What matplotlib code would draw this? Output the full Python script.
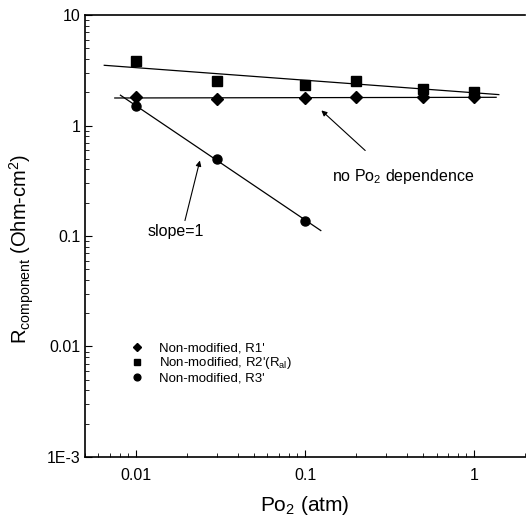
import matplotlib.pyplot as plt
import numpy as np
from matplotlib.ticker import NullFormatter

plt.rcParams['font.family'] = ['Liberation Sans', 'DejaVu Sans']
plt.rcParams['mathtext.default'] = 'regular'

# data
po2 = [0.01, 0.03, 0.1, 0.2, 0.5, 1.0]
r1 = [1.80, 1.75, 1.78, 1.80, 1.80, 1.80]
r2 = [3.80, 2.55, 2.35, 2.55, 2.16, 2.03]
po2_r3 = [0.01, 0.03, 0.1]
r3 = [1.49, 0.50, 0.138]

# extent of each fitted line
fit_r1 = [0.0075, 1.35]
fit_r2 = [0.0065, 1.4]
fit_r3 = [0.0081, 0.124]

fig = plt.figure(figsize=(5.26, 5.18), dpi=100)
ax = fig.add_axes([0.1616, 0.1178, 0.8365, 0.8532])


def fitline(x, y, rng):
    p = np.polyfit(np.log10(x), np.log10(y), 1)
    xs = np.array(rng)
    return xs, 10 ** np.polyval(p, np.log10(xs))


for x, y, rng in [(po2, r2, fit_r2), (po2, r1, fit_r1), (po2_r3, r3, fit_r3)]:
    xs, ys = fitline(x, y, rng)
    ax.plot(xs, ys, color='black', lw=0.9)

ax.plot(po2, r1, 'D', color='black', ms=6, label="Non-modified, R1'")
ax.plot(po2, r2, 's', color='black', ms=6.5, label="Non-modified, R2'(R$_{al}$)")
ax.plot(po2_r3, r3, 'o', color='black', ms=6.5, label="Non-modified, R3'")

ax.set_xscale('log')
ax.set_yscale('log')
ax.set_xlim(0.005, 2)
ax.set_ylim(1e-3, 10)

ax.set_xticks([0.01, 0.1, 1])
ax.set_xticklabels(['0.01', '0.1', '1'])
ax.set_yticks([1e-3, 0.01, 0.1, 1, 10])
ax.set_yticklabels(['1E-3', '0.01', '0.1', '1', '10'])
ax.tick_params(which='both', direction='in', labelsize=11.5)
ax.tick_params(axis='x', which='both', pad=8)
ax.tick_params(which='major', length=5)
ax.tick_params(which='minor', length=3)
ax.xaxis.set_minor_formatter(NullFormatter())
ax.yaxis.set_minor_formatter(NullFormatter())

ax.spines['right'].set_visible(False)
for s in ['left', 'bottom', 'top']:
    ax.spines[s].set_linewidth(1.2)

ax.set_xlabel('Po$_2$ (atm)', fontsize=15, labelpad=8)
ax.set_ylabel('R$_{component}$ (Ohm-cm$^2$)', fontsize=14.5)
ax.yaxis.set_label_coords(-0.112, 0.47)

ax.text(0.145, 0.345, 'no Po$_2$ dependence', fontsize=11.5, ha='left', va='center')
ax.annotate('', xy=(0.125, 1.37), xytext=(0.227, 0.594),
            arrowprops=dict(arrowstyle='-|>', color='black', lw=0.8,
                            shrinkA=0, shrinkB=0, mutation_scale=8))
ax.text(0.0118, 0.11, 'slope=1', fontsize=11.5, ha='left', va='center')
ax.annotate('', xy=(0.0239, 0.482), xytext=(0.0195, 0.138),
            arrowprops=dict(arrowstyle='-|>', color='black', lw=0.8,
                            shrinkA=0, shrinkB=0, mutation_scale=8))

ax.legend(loc='upper left', bbox_to_anchor=(0.103, 0.26), frameon=False,
          fontsize=9.5, handletextpad=1.2, labelspacing=0.08, handlelength=1,
          markerscale=0.75, borderaxespad=0, borderpad=0)

plt.savefig('out.png', dpi=100)
